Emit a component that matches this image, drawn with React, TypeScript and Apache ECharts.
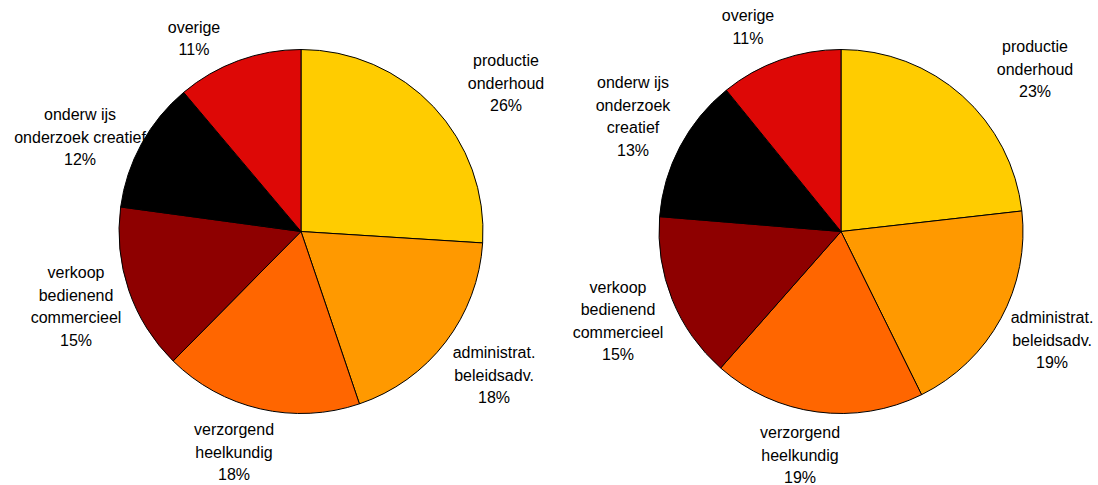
import React, { useEffect, useRef } from "react";
import * as echarts from "echarts";

const CATEGORIES_LEFT = [
  "productie\nonderhoud",
  "administrat.\nbeleidsadv.",
  "verzorgend\nheelkundig",
  "verkoop\nbedienend\ncommercieel",
  "onderw ijs\nonderzoek creatief",
  "overige",
];
const CATEGORIES_RIGHT = [
  "productie\nonderhoud",
  "administrat.\nbeleidsadv.",
  "verzorgend\nheelkundig",
  "verkoop\nbedienend\ncommercieel",
  "onderw ijs\nonderzoek\ncreatief",
  "overige",
];
// slice shares as read from the slice boundaries
const VALUES_LEFT = [26.0, 18.8, 17.6, 14.75, 11.7, 11.15];
const VALUES_RIGHT = [23.2, 19.5, 18.8, 14.8, 12.85, 10.85];
// percentages as printed on the labels
const PERCENT_LABELS_LEFT = ["26%", "18%", "18%", "15%", "12%", "11%"];
const PERCENT_LABELS_RIGHT = ["23%", "19%", "19%", "15%", "13%", "11%"];

const COLORS = ["#FFCC00", "#FF9900", "#FF6600", "#8E0000", "#000000", "#DD0806"];

// label block centres, relative to each pie's centre (px)
const LABEL_OFFSETS_LEFT = [
  [205, -148.5],
  [193, 143.5],
  [-67, 220.5],
  [-225, 75],
  [-221, -94.5],
  [-107, -193],
];
const LABEL_OFFSETS_RIGHT = [
  [194, -162.5],
  [211, 108.5],
  [-41, 223.5],
  [-223, 89.5],
  [-208, -115],
  [-93, -204.5],
];

const CY = 231.5;
const LEFT_CX = 301;
const RIGHT_CX = 841;
const RADIUS = 182;

function makeSeries(
  names: string[],
  values: number[],
  pcts: string[],
  cx: number,
  offsets: number[][]
) {
  return {
    type: "pie",
    center: [cx, CY],
    radius: RADIUS,
    startAngle: 90,
    clockwise: true,
    avoidLabelOverlap: false,
    data: names.map((n, i) => ({
      name: n,
      value: values[i],
      itemStyle: { color: COLORS[i] },
    })),
    itemStyle: { borderColor: "#000000", borderWidth: 1 },
    label: {
      show: true,
      position: "outside",
      formatter: (p: any) => `${p.name}\n${pcts[p.dataIndex]}`,
      color: "#000000",
      fontFamily: "'Liberation Sans', Arial, sans-serif",
      fontSize: 16,
      lineHeight: 22.5,
      align: "center",
    },
    labelLine: { show: false },
    labelLayout: (params: any) => {
      const o = offsets[params.dataIndex];
      return {
        x: cx + o[0],
        y: CY + o[1],
        align: "center",
        verticalAlign: "middle",
      };
    },
    emphasis: { disabled: true },
  };
}

export default function App() {
  const ref = useRef<HTMLDivElement>(null);
  useEffect(() => {
    if (!ref.current) return;
    const chart = echarts.init(ref.current, undefined, { renderer: "svg" });
    chart.setOption({
      animation: false,
      backgroundColor: "#ffffff",
      series: [
        makeSeries(CATEGORIES_LEFT, VALUES_LEFT, PERCENT_LABELS_LEFT, LEFT_CX, LABEL_OFFSETS_LEFT),
        makeSeries(CATEGORIES_RIGHT, VALUES_RIGHT, PERCENT_LABELS_RIGHT, RIGHT_CX, LABEL_OFFSETS_RIGHT),
      ],
    });
    return () => chart.dispose();
  }, []);
  return (
    <div
      ref={ref}
      style={{ position: "fixed", left: 0, top: 0, width: 1098, height: 485 }}
    />
  );
}
